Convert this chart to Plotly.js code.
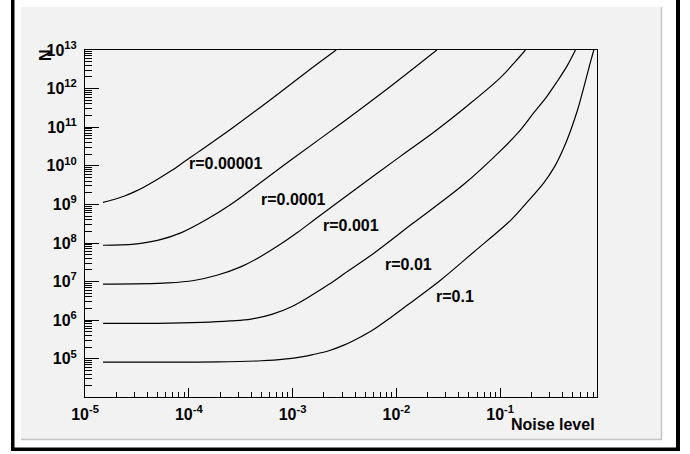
<!DOCTYPE html>
<html><head><meta charset="utf-8">
<script src="https://cdn.plot.ly/plotly-3.0.1.min.js"></script>
<style>html,body{margin:0;padding:0;background:#fff}#chart{width:690px;height:454px}</style>
</head><body><div id="chart"></div>
<script>
// ---- data ----
const seriesNames = ["r=0.00001", "r=0.0001", "r=0.001", "r=0.01", "r=0.1"];

const noise_r1e5 = [1.49e-5, 1.9e-5, 2.4e-5, 3.02e-5, 3.72e-5, 5.0e-5, 6.76e-5, 9.1e-5, 1.23e-4, 2.57e-4,
                    6.17e-4, 1.51e-3, 2.63e-3];
const N_r1e5     = [1.13e9, 1.34e9, 1.65e9, 2.14e9, 2.82e9, 4.47e9, 7.41e9, 1.29e10, 2.26e10, 9.12e10,
                    5.25e11, 3.31e12, 1e13];

const noise_r1e4 = [1.49e-5, 3.0e-5, 5.0e-5, 8.5e-5, 1.51e-4, 2.51e-4, 3.98e-4, 1.0e-3, 3.16e-3, 8.5e-3, 2.45e-2];
const N_r1e4     = [8.75e7, 9.4e7, 1.17e8, 1.86e8, 4.17e8, 9.8e8, 2.4e9, 1.52e10, 1.45e11, 1.07e12, 1e13];

const noise_r1e3 = [1.49e-5, 6.3e-5, 1.12e-4, 1.9e-4, 3.16e-4, 4.57e-4, 7.94e-4, 1.12e-3, 1.62e-3, 2.88e-3,
                    1.1e-2, 2.29e-2, 4.8e-2, 0.1, 0.135, 0.175];
const N_r1e3     = [8.57e6, 9.27e6, 1.07e7, 1.48e7, 2.4e7, 3.98e7, 1.0e8, 1.9e8, 3.98e8, 1.26e9,
                    1.78e10, 7.4e10, 3.55e11, 1.9e12, 4.5e12, 1e13];

const noise_r1e2 = [1.49e-5, 5.0e-5, 1.32e-4, 2.51e-4, 3.98e-4, 6.3e-4, 9.77e-4, 1.58e-3, 2.24e-3, 3.16e-3,
                    6.03e-3, 1.41e-2, 4.47e-2, 0.1, 0.148, 0.211, 0.282, 0.355, 0.437, 0.531];
const N_r1e2     = [8.24e5, 8.3e5, 8.8e5, 9.6e5, 1.07e6, 1.42e6, 2.24e6, 4.68e6, 8.5e6, 1.62e7,
                    5.37e7, 3.09e8, 3.31e9, 2.4e10, 7.1e10, 2.37e11, 6.3e11, 1.55e12, 3.7e12, 1e13];

const noise_r1e1 = [1.49e-5, 1e-4, 1.9e-4, 5.0e-4, 8.3e-4, 1.26e-3, 1.58e-3, 2.24e-3, 3.16e-3, 4.47e-3,
                    6.03e-3, 8.9e-3, 1.26e-2, 2.66e-2, 5.57e-2, 0.126, 0.182, 0.263, 0.331, 0.41,
                    0.479, 0.552, 0.617, 0.689, 0.741, 0.798];
const N_r1e1     = [8.22e4, 8.24e4, 8.3e4, 8.9e4, 9.8e4, 1.14e5, 1.29e5, 1.62e5, 2.29e5, 3.63e5,
                    5.75e5, 1.2e6, 2.4e6, 1.09e7, 5.86e7, 3.87e8, 1.15e9, 3.63e9, 9.1e9, 2.95e10,
                    8.5e10, 2.63e11, 7.6e11, 2.34e12, 4.9e12, 1e13];

const xTickVals = [1e-5, 1e-4, 1e-3, 1e-2, 1e-1];
const xTickText = ["10<sup>-5</sup>", "10<sup>-4</sup>", "10<sup>-3</sup>", "10<sup>-2</sup>", "10<sup>-1</sup>"];
const yTickVals = [1e5, 1e6, 1e7, 1e8, 1e9, 1e10, 1e11, 1e12, 1e13];
const yTickText = ["10<sup>5</sup>", "10<sup>6</sup>", "10<sup>7</sup>", "10<sup>8</sup>", "10<sup>9</sup>",
                   "10<sup>10</sup>", "10<sup>11</sup>", "10<sup>12</sup>", "10<sup>13</sup>"];
const xTitle = "Noise level";
const yTitle = "N";

// ---- build ----
const xs = [noise_r1e5, noise_r1e4, noise_r1e3, noise_r1e2, noise_r1e1];
const ys = [N_r1e5, N_r1e4, N_r1e3, N_r1e2, N_r1e1];
const traces = xs.map((x, i) => ({
  x: x, y: ys[i], type: 'scatter', mode: 'lines', name: seriesNames[i],
  line: {color: '#000', width: 1.2, shape: 'spline', smoothing: 1},
  hoverinfo: 'skip'
}));

function minorVals(lo, hi) {
  const v = [];
  for (let e = lo; e < hi; e++) for (let m = 2; m <= 9; m++) v.push(m * Math.pow(10, e));
  return v;
}

// pixel -> paper helpers (layout only)
const ML = 85, MR = 93, MT = 50, MB = 57, W = 690, H = 454;
const PW = W - ML - MR, PH = H - MT - MB;
const px = p => (p - ML) / PW;
const py = p => (H - MB - p) / PH;
const FONT = 'Liberation Sans, Arial, sans-serif';

const labelPos = [[-3.644, 10.063], [-2.989, 9.132], [-2.442, 8.459], [-1.881, 7.442], [-1.431, 6.604]];
const annotations = seriesNames.map((t, i) => ({
  x: labelPos[i][0], y: labelPos[i][1], xref: 'x', yref: 'y', text: t, showarrow: false,
  font: {family: FONT, size: 16, color: '#000', weight: 'bold'},
  xanchor: 'center', yanchor: 'middle'
}));
annotations.push({
  xref: 'paper', yref: 'paper', x: px(597), y: py(424), text: xTitle, showarrow: false,
  xanchor: 'right', yanchor: 'middle',
  font: {family: FONT, size: 16, color: '#000', weight: 'bold'}
});
annotations.push({
  xref: 'paper', yref: 'paper', x: px(45), y: py(55), text: yTitle, showarrow: false, textangle: -90,
  xanchor: 'center', yanchor: 'middle',
  font: {family: FONT, size: 16, color: '#000', weight: 'bold'}
});

const shapes = [
  {type: 'rect', xref: 'paper', yref: 'paper', x0: px(21), x1: px(662), y0: py(440), y1: py(7),
   fillcolor: '#f2f2f2', line: {width: 0}, layer: 'below'},
  {type: 'line', xref: 'paper', yref: 'paper', x0: px(661.5), x1: px(661.5), y0: py(440), y1: py(7),
   line: {color: '#c4c4c4', width: 1.5}, layer: 'below'},
  {type: 'line', xref: 'paper', yref: 'paper', x0: px(21), x1: px(662), y0: py(439.5), y1: py(439.5),
   line: {color: '#c4c4c4', width: 1.5}, layer: 'below'},
  {type: 'rect', xref: 'paper', yref: 'paper', x0: px(11), x1: px(14.5), y0: py(451), y1: py(-2),
   fillcolor: '#000', line: {width: 0}, layer: 'below'},
  {type: 'rect', xref: 'paper', yref: 'paper', x0: px(676), x1: px(680), y0: py(451), y1: py(-2),
   fillcolor: '#000', line: {width: 0}, layer: 'below'},
  {type: 'rect', xref: 'paper', yref: 'paper', x0: px(11), x1: px(680), y0: py(451), y1: py(447.5),
   fillcolor: '#000', line: {width: 0}, layer: 'below'}
];

const tickFont = {family: FONT, size: 16, color: '#000', weight: 'bold'};

const layout = {
  width: W, height: H,
  margin: {l: ML, r: MR, t: MT, b: MB, pad: 0},
  paper_bgcolor: '#ffffff', plot_bgcolor: 'rgba(0,0,0,0)',
  showlegend: false,
  xaxis: {
    type: 'log', range: [-5, -5 + PW / 103.8], autorange: false,
    showline: true, mirror: true, linecolor: '#000', linewidth: 1,
    showgrid: false, zeroline: false,
    ticks: 'inside', ticklen: 9, tickwidth: 1, tickcolor: '#000',
    tickmode: 'array', tickvals: xTickVals, ticktext: xTickText,
    tickfont: tickFont, ticklabelstandoff: 3,
    minor: {ticks: 'inside', ticklen: 5, tickwidth: 1, tickcolor: '#000', tickmode: 'array',
            tickvals: minorVals(-5, 0), showgrid: false}
  },
  yaxis: {
    type: 'log', range: [13 - PH / 38.6, 13], autorange: false,
    showline: true, mirror: true, linecolor: '#000', linewidth: 1,
    showgrid: false, zeroline: false,
    ticks: 'inside', ticklen: 14, tickwidth: 1, tickcolor: '#000',
    tickmode: 'array', tickvals: yTickVals, ticktext: yTickText,
    tickfont: tickFont, ticklabelstandoff: 4,
    minor: {ticks: 'inside', ticklen: 7, tickwidth: 1, tickcolor: '#000', tickmode: 'array',
            tickvals: minorVals(4, 13), showgrid: false}
  },
  annotations: annotations,
  shapes: shapes
};

Plotly.newPlot('chart', traces, layout, {staticPlot: true, displayModeBar: false});
</script>
</body></html>
